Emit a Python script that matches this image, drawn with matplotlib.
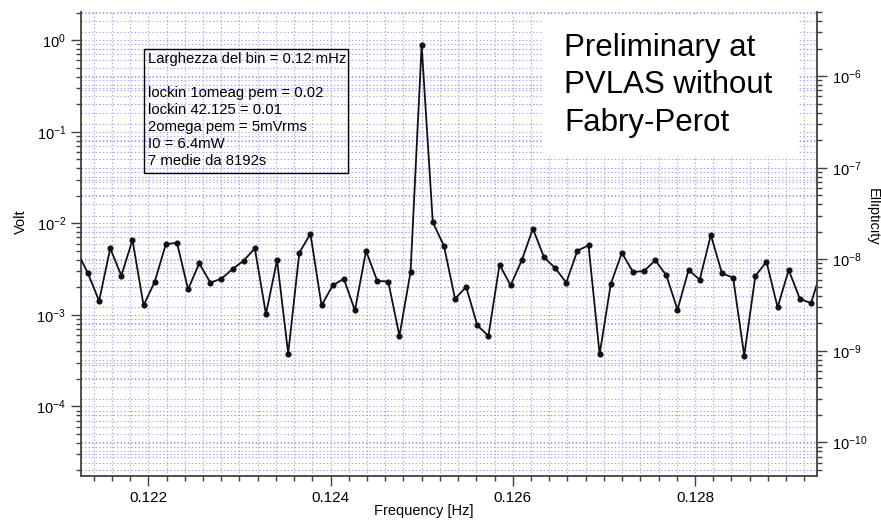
import matplotlib
matplotlib.use("Agg")
import matplotlib.pyplot as plt
import numpy as np
from matplotlib.ticker import LogLocator, MultipleLocator, FuncFormatter, NullFormatter
from matplotlib.patches import Rectangle

plt.rcParams['font.family'] = ['Liberation Sans', 'DejaVu Sans']
plt.rcParams['mathtext.fontset'] = 'custom'
plt.rcParams['mathtext.rm'] = 'Liberation Sans'
plt.rcParams['mathtext.it'] = 'Liberation Sans:italic'
plt.rcParams['mathtext.bf'] = 'Liberation Sans:bold'

# FFT bins around the 0.125 Hz line, bin width 1/8192 Hz
bin_hz = 1 / 8192
f_center = 0.125
bins = np.arange(-31, 37)
volt = [0.00499, 0.00284, 0.00142, 0.00533, 0.00268, 0.00658, 0.00127, 0.00230,
        0.00590, 0.00614, 0.00190, 0.00366, 0.00225, 0.00248, 0.00317, 0.00391,
        0.00533, 0.00102, 0.00395, 0.000377, 0.00477, 0.00769, 0.00127, 0.00210,
        0.00248, 0.00112, 0.00499, 0.00236, 0.00230, 0.000589, 0.00294,
        0.877,
        0.01026, 0.00569, 0.00150, 0.00202, 0.000769, 0.000589, 0.00353, 0.00210,
        0.00395, 0.00873, 0.00426, 0.00325, 0.00225, 0.00502, 0.00575, 0.000371,
        0.00217, 0.00476, 0.00294, 0.00301, 0.00395, 0.00270, 0.00114, 0.00309,
        0.00242, 0.00745, 0.00284, 0.00255, 0.000359, 0.00266, 0.00381, 0.00121,
        0.00309, 0.00150, 0.00134, 0.00325]
freq = f_center + bins * bin_hz

# right axis: ellipticity = volt * scale
volt_to_ell = 10 ** -5.607

x_ticks = [0.122, 0.124, 0.126, 0.128]
x_lim = (0.121258, 0.129342)
y_lim = (1.74e-5, 2.03)

info_text = ("Larghezza del bin = 0.12 mHz\n\n"
             "lockin 1omeag pem = 0.02\n"
             "lockin 42.125 = 0.01\n"
             "2omega pem = 5mVrms\n"
             "I0 = 6.4mW\n"
             "7 medie da 8192s")
stamp = "Preliminary at\nPVLAS without\nFabry-Perot"

W, H = 881, 520
fig = plt.figure(figsize=(W / 100, H / 100), dpi=100)
ax = fig.add_axes([80.7 / W, 1 - 476 / H, (817.3 - 80.7) / W, (476 - 12) / H])

grid_kw = dict(color='#a4a4ff', lw=0.8, ls=(0, (1.2, 2)), zorder=0.5)

ax.set_yscale('log')
ax.set_xlim(*x_lim)
ax.set_ylim(*y_lim)


def decade_fmt(v, pos):
    return '$10^{%d}$' % int(round(np.log10(v)))


ax.yaxis.set_major_locator(LogLocator(base=10, numticks=20))
ax.yaxis.set_minor_locator(LogLocator(base=10, subs=np.arange(2, 10), numticks=20))
ax.yaxis.set_major_formatter(FuncFormatter(decade_fmt))
ax.yaxis.set_minor_formatter(NullFormatter())
ax.set_xticks(x_ticks)
ax.set_xticklabels(['%.3f' % t for t in x_ticks])
ax.xaxis.set_minor_locator(MultipleLocator(0.0002))
ax.xaxis.get_offset_text().set_visible(False)

ax.grid(which='both', axis='both', **grid_kw)
ax.set_axisbelow(True)

# grid from the ellipticity axis, drawn on the main axes
for e in range(-11, -4):
    for m in range(1, 10):
        v = m * 10.0 ** e / volt_to_ell
        if y_lim[0] < v < y_lim[1]:
            ax.axhline(v, **grid_kw)

ax.plot(freq, volt, color='#111111', lw=1.3, marker='o', ms=3.4, zorder=3)

spine_c = '#404040'
for side in ['top', 'right']:
    ax.spines[side].set_visible(False)
for side in ['left', 'bottom']:
    ax.spines[side].set_color(spine_c)
    ax.spines[side].set_linewidth(1.3)
ax.tick_params(which='major', direction='out', length=7, width=1, color=spine_c,
               labelsize=11)
ax.tick_params(which='minor', direction='out', length=3.5, width=1, color=spine_c)
ax.tick_params(axis='y', labelsize=10.5)

ax2 = ax.twinx()
ax2.set_yscale('log')
ax2.set_ylim(y_lim[0] * volt_to_ell, y_lim[1] * volt_to_ell)
ax2.yaxis.set_major_locator(LogLocator(base=10, numticks=20))
ax2.yaxis.set_minor_locator(LogLocator(base=10, subs=np.arange(2, 10), numticks=20))
ax2.yaxis.set_major_formatter(FuncFormatter(decade_fmt))
ax2.yaxis.set_minor_formatter(NullFormatter())
ax2.xaxis.get_offset_text().set_visible(False)
for side in ['top', 'left', 'bottom']:
    ax2.spines[side].set_visible(False)
ax2.spines['right'].set_color(spine_c)
ax2.spines['right'].set_linewidth(1.3)
ax2.tick_params(which='major', direction='out', length=7, width=1, color=spine_c,
                labelsize=10.5)
ax2.tick_params(which='minor', direction='out', length=3.5, width=1, color=spine_c)

# white panel behind the stamp
ax.add_patch(Rectangle((542 / W, 1 - 156 / H), (798 - 542) / W, (156 - 15) / H,
                       transform=fig.transFigure, fc='white', ec='none', zorder=1))
fig.text(564 / W, 1 - 33 / H, stamp, fontsize=22.5, va='top', ha='left', linespacing=1.32)

# info box
ax.add_patch(Rectangle((144 / W, 1 - 173 / H), (348 - 144) / W, (173 - 49) / H,
                       transform=fig.transFigure, fill=False, ec='black', lw=1, zorder=4))
fig.text(148 / W, 1 - 52 / H, info_text, fontsize=10.7, va='top', ha='left', linespacing=1.27)

fig.text(21 / W, 1 - 222 / H, 'Volt', rotation=90, ha='center', va='center', fontsize=10.5)
fig.text(873 / W, 1 - 217 / H, 'Ellipticity', rotation=-90, ha='center', va='center', fontsize=10.5)
fig.text(424 / W, 1 - 511 / H, 'Frequency [Hz]', ha='center', va='center', fontsize=10.5)

fig.savefig('out.png', dpi=100)
